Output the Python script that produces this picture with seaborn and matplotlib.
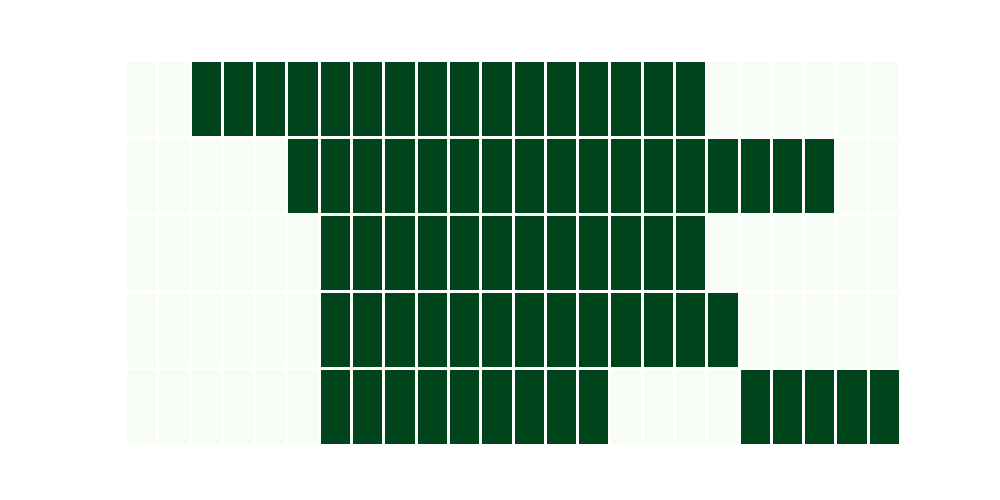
import numpy as np
import pandas as pd
import matplotlib
matplotlib.use("Agg")
import matplotlib.pyplot as plt
import seaborn as sns

# saat dilimleri (0-23) ve 5 satır
hours = list(range(24))
rows = ["r1", "r2", "r3", "r4", "r5"]

# her satır için aktif saatler (aralıklar dahil)
r1 = [0, 0] + [1] * 16 + [0] * 6
r2 = [0] * 5 + [1] * 17 + [0] * 2
r3 = [0] * 6 + [1] * 12 + [0] * 6
r4 = [0] * 6 + [1] * 13 + [0] * 5
r5 = [0] * 6 + [1] * 9 + [0] * 4 + [1] * 5

df = pd.DataFrame([r1, r2, r3, r4, r5], index=rows, columns=hours)

fig, ax = plt.subplots(figsize=(10, 5), dpi=100)
sns.heatmap(df, cmap="Greens", cbar=False, linewidths=2, linecolor="white",
            xticklabels=False, yticklabels=False, ax=ax)
ax.set_xlabel("")
ax.set_ylabel("")
ax.axis("off")

plt.savefig("out.png", dpi=100)
